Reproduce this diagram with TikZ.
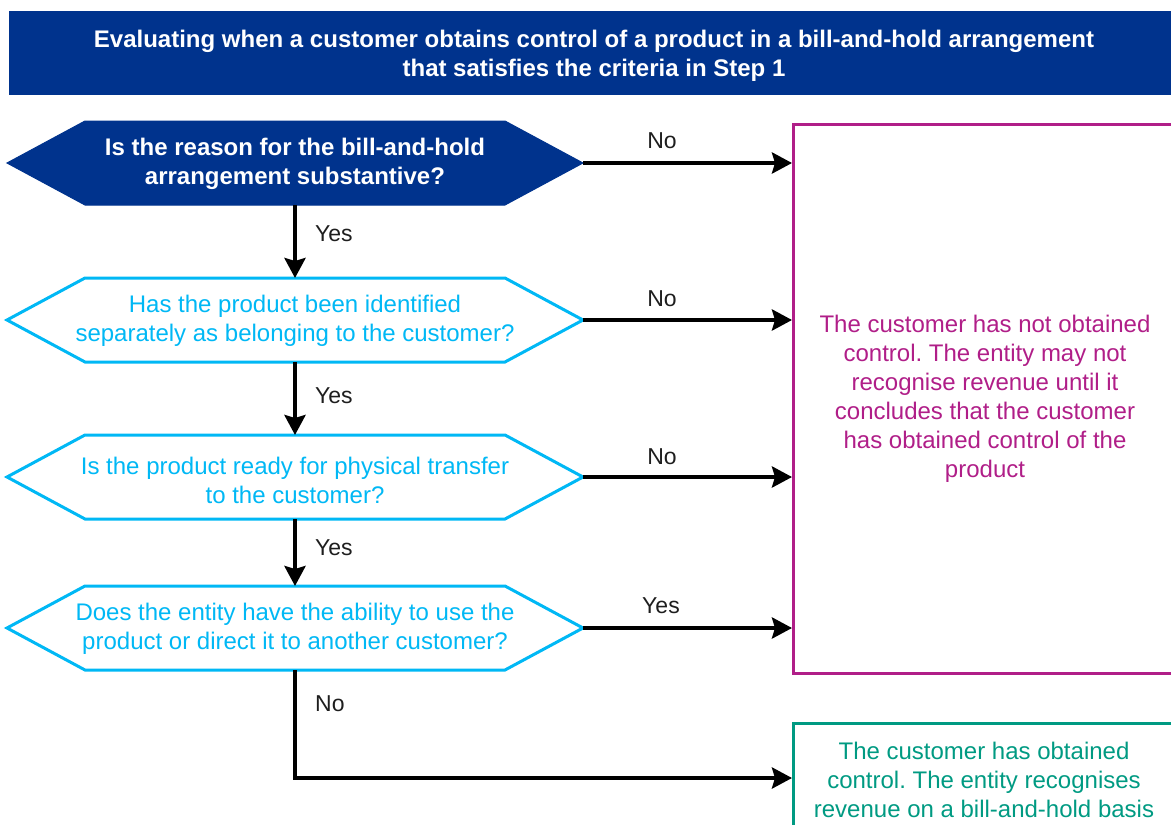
\documentclass[tikz,border=0pt]{standalone}
\usepackage{fontspec}
\setmainfont{Liberation Sans}
\usetikzlibrary{arrows.meta,calc}
\definecolor{kblue}{HTML}{00338D}
\definecolor{kcyan}{HTML}{00B8F5}
\definecolor{kmag}{HTML}{B01E88}
\definecolor{kgreen}{HTML}{009A82}
\definecolor{klab}{HTML}{1E1E1E}
\frenchspacing
\begin{document}
\begin{tikzpicture}[x=1pt,y=-1pt,
  txt/.style={font=\fontsize{24}{29}\selectfont, align=center, inner sep=0pt},
  qtext/.style={txt, text=kcyan},
  htext/.style={txt, text=white, font=\fontsize{24}{29}\selectfont\bfseries},
  hexdark/.style={fill=kblue, draw=kblue, line width=1pt},
  hexlight/.style={draw=kcyan, line width=3pt, fill=white},
  lab/.style={font=\fontsize{23}{26}\selectfont, text=klab, inner sep=0pt},
  conn/.style={line width=4pt, -{Stealth[length=20pt,width=21pt,inset=3pt]}},
  outbox/.style={line width=3pt, minimum width=400pt, anchor=north west, inner sep=0pt}
]
\clip (0,0) rectangle (1171,825);
% header
\node[fill=kblue, minimum width=1162pt, minimum height=84pt, anchor=north west, inner sep=0pt] (head) at (9,11) {};
\node[htext] (headtxt) at (594,56) {Evaluating when a customer obtains control of a product in a bill-and-hold arrangement\\that satisfies the criteria in Step 1};

% hexagons
\foreach \n/\y/\st in {h1/163/hexdark, h2/320/hexlight, h3/477/hexlight, h4/628/hexlight}{
  \draw[\st] (85,\y-42) -- (505,\y-42) -- (583,\y) -- (505,\y+42) -- (85,\y+42) -- (7,\y) -- cycle;
  \coordinate (\n r) at (583,\y);
  \coordinate (\n t) at (295,\y-42);
  \coordinate (\n b) at (295,\y+42);
}
\node[htext] (q1) at (295,164) {Is the reason for the bill-and-hold\\arrangement substantive?};
\node[qtext] (q2) at (295,321) {Has the product been identified\\separately as belonging to the customer?};
\node[qtext] (q3) at (295,480) {Is the product ready for physical transfer\\to the customer?};
\node[qtext] (q4) at (295,629) {Does the entity have the ability to use the\\product or direct it to another customer?};

% outcome boxes
\node[outbox, draw=kmag, minimum height=549pt] (mbox) at (792,123) {};
\node[txt, text=kmag] (mtext) at (985,399) {The customer has not obtained\\control. The entity may not\\recognise revenue until it\\concludes that the customer\\has obtained control of the\\product};
\node[outbox, draw=kgreen, minimum height=112pt] (gbox) at (792,722) {};
\node[txt, text=kgreen] (gtext) at (984,780) {The customer has obtained\\control. The entity recognises\\revenue on a bill-and-hold basis};

% connectors
\draw[conn] (h1b) -- (h2t);
\draw[conn] (h2b) -- (h3t);
\draw[conn] (h3b) -- (h4t);
\draw[conn] (h1r) -- (h1r -| mbox.west);
\draw[conn] (h2r) -- (h2r -| mbox.west);
\draw[conn] (h3r) -- (h3r -| mbox.west);
\draw[conn] (h4r) -- (h4r -| mbox.west);
\coordinate (gin) at (gbox.west |- 0,778);
\draw[conn] (h4b) |- (gin);

% labels
\node[lab] (l1) at (662,141) {No};
\node[lab] (l2) at (662,299) {No};
\node[lab] (l3) at (662,457) {No};
\node[lab] (l4) at (661,606) {Yes};
\node[lab, anchor=west] (y1) at (315,234) {Yes};
\node[lab, anchor=west] (y2) at (315,396) {Yes};
\node[lab, anchor=west] (y3) at (315,548) {Yes};
\node[lab, anchor=west] (n4) at (315,704) {No};
\end{tikzpicture}
\end{document}
